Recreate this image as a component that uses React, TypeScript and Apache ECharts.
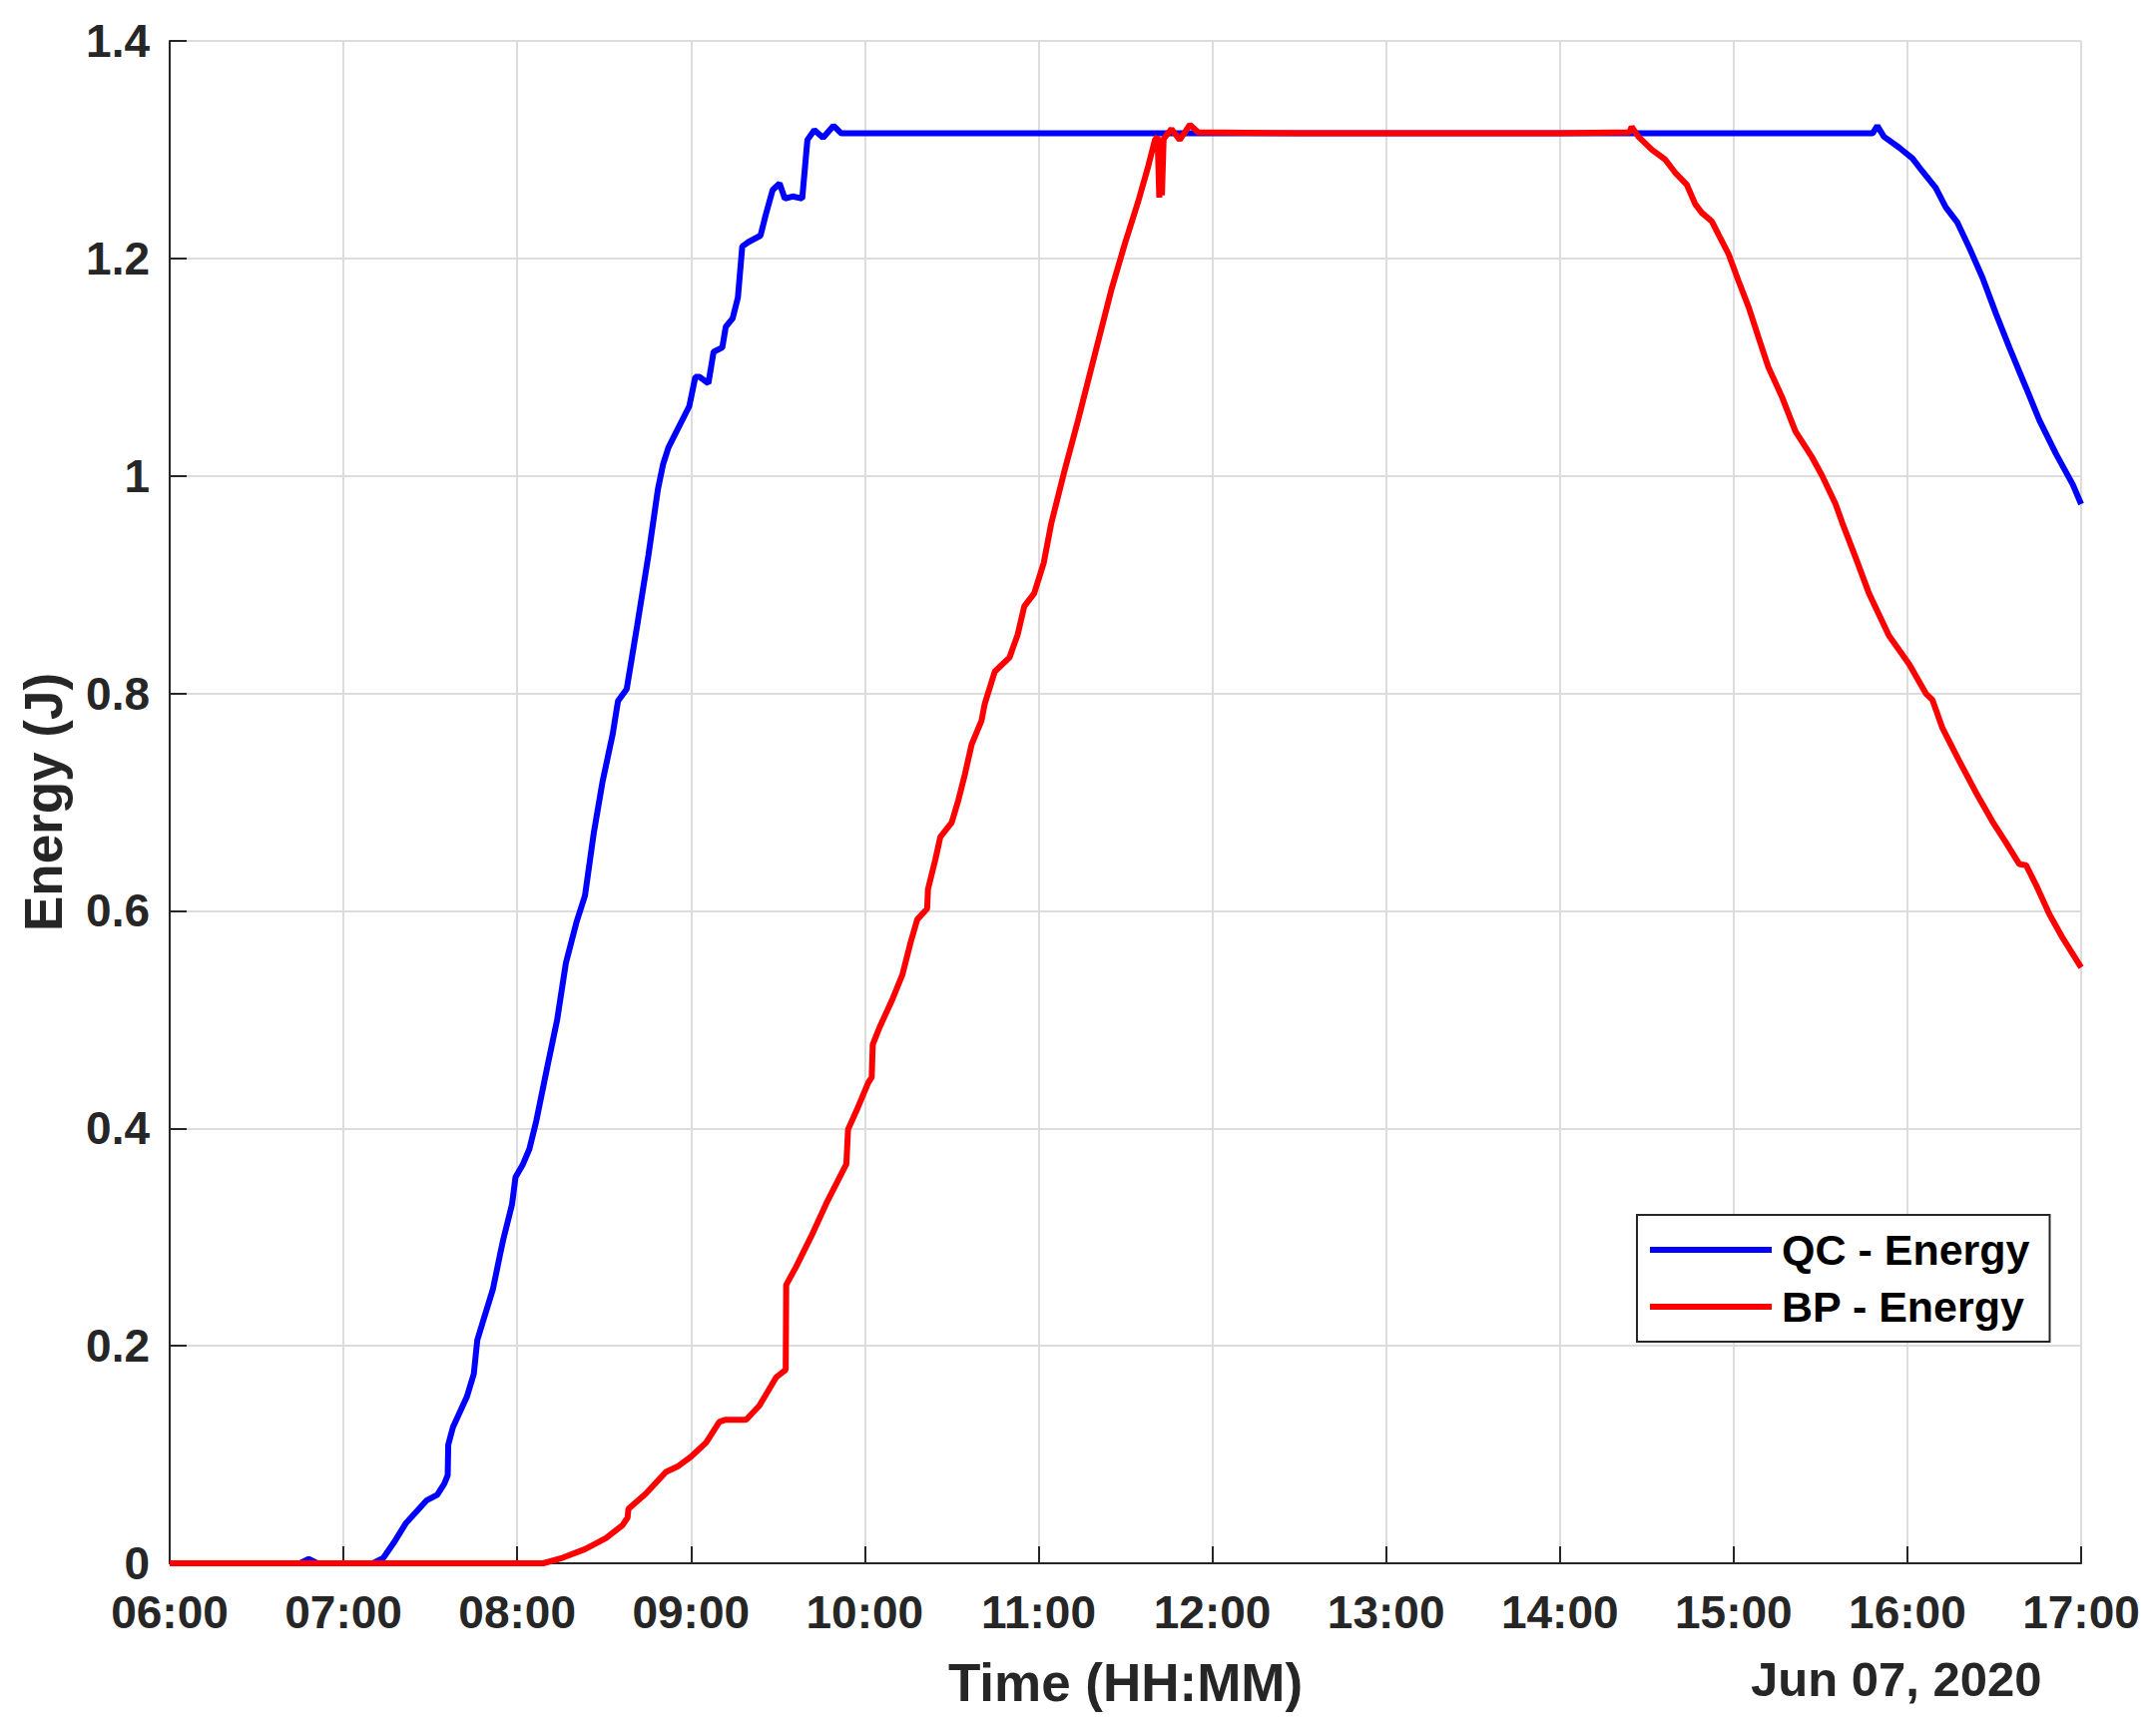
import React, { useEffect, useRef } from "react";
import * as echarts from "echarts";

// Time in decimal hours, energy in J
const qcEnergy: [number, number][] = [
  [6.0, 0], [6.75, 0], [6.8, 0.004], [6.85, 0], [7.17, 0], [7.23, 0.005], [7.29, 0.019],
  [7.36, 0.037], [7.48, 0.058], [7.54, 0.063], [7.58, 0.073], [7.6, 0.081], [7.603, 0.109],
  [7.63, 0.125], [7.71, 0.153], [7.75, 0.174], [7.77, 0.205], [7.8, 0.221], [7.86, 0.252],
  [7.9, 0.283], [7.92, 0.298], [7.97, 0.33], [7.99, 0.355], [8.03, 0.366], [8.07, 0.381],
  [8.11, 0.407], [8.17, 0.454], [8.23, 0.5], [8.28, 0.552], [8.34, 0.589], [8.39, 0.614],
  [8.44, 0.671], [8.49, 0.718], [8.55, 0.763], [8.58, 0.793], [8.63, 0.804], [8.69, 0.862],
  [8.755, 0.927], [8.81, 0.988], [8.84, 1.011], [8.87, 1.026], [8.93, 1.045], [8.99, 1.064],
  [9.025, 1.091], [9.05, 1.091], [9.1, 1.085], [9.13, 1.114], [9.18, 1.118], [9.2, 1.137],
  [9.24, 1.145], [9.27, 1.164], [9.295, 1.211], [9.33, 1.215], [9.4, 1.221], [9.43, 1.24],
  [9.47, 1.263], [9.51, 1.269], [9.54, 1.255], [9.585, 1.257], [9.64, 1.255], [9.67, 1.309],
  [9.71, 1.318], [9.76, 1.311], [9.82, 1.322], [9.865, 1.315], [10.5, 1.315], [12.0, 1.315],
  [14.0, 1.315], [15.8, 1.315], [15.827, 1.322], [15.865, 1.312], [15.952, 1.302],
  [16.029, 1.292], [16.087, 1.28], [16.163, 1.265], [16.221, 1.247], [16.288, 1.233],
  [16.356, 1.21], [16.433, 1.182], [16.51, 1.149], [16.587, 1.118], [16.683, 1.081],
  [16.76, 1.051], [16.856, 1.02], [16.952, 0.992], [17.0, 0.974],
];

const bpEnergy: [number, number][] = [
  [6.0, 0], [8.15, 0], [8.26, 0.005], [8.39, 0.013], [8.51, 0.023], [8.606, 0.035],
  [8.635, 0.042], [8.64, 0.05], [8.74, 0.064], [8.856, 0.084], [8.923, 0.089], [9.0, 0.098],
  [9.087, 0.111], [9.163, 0.13], [9.2, 0.132], [9.317, 0.132], [9.394, 0.145], [9.49, 0.171],
  [9.545, 0.178], [9.548, 0.256], [9.606, 0.273], [9.702, 0.304], [9.779, 0.331],
  [9.894, 0.367], [9.904, 0.399], [9.952, 0.416], [10.02, 0.442], [10.04, 0.447],
  [10.046, 0.477], [10.083, 0.492], [10.16, 0.519], [10.216, 0.541], [10.264, 0.571],
  [10.302, 0.592], [10.359, 0.602], [10.364, 0.62], [10.406, 0.647], [10.435, 0.668],
  [10.5, 0.681], [10.539, 0.702], [10.577, 0.726], [10.615, 0.753], [10.672, 0.775],
  [10.69, 0.79], [10.748, 0.82], [10.833, 0.833], [10.88, 0.854], [10.918, 0.88],
  [10.975, 0.892], [11.03, 0.92], [11.073, 0.956], [11.15, 1.005], [11.227, 1.051],
  [11.323, 1.111], [11.419, 1.171], [11.496, 1.213], [11.573, 1.252], [11.63, 1.284],
  [11.67, 1.309], [11.685, 1.312], [11.695, 1.256], [11.703, 1.31], [11.71, 1.258],
  [11.72, 1.31], [11.765, 1.319], [11.813, 1.309], [11.871, 1.323], [11.919, 1.316],
  [12.5, 1.315], [14.0, 1.315], [14.4, 1.316], [14.413, 1.321], [14.452, 1.312],
  [14.529, 1.3], [14.606, 1.291], [14.663, 1.279], [14.73, 1.268], [14.779, 1.25],
  [14.817, 1.242], [14.875, 1.234], [14.913, 1.222], [14.971, 1.204], [15.029, 1.179],
  [15.087, 1.155], [15.144, 1.127], [15.2, 1.1], [15.28, 1.072], [15.356, 1.041],
  [15.452, 1.017], [15.51, 1.0], [15.587, 0.974], [15.625, 0.957], [15.702, 0.925],
  [15.779, 0.892], [15.894, 0.853], [16.01, 0.827], [16.106, 0.8], [16.144, 0.794],
  [16.202, 0.768], [16.298, 0.738], [16.394, 0.709], [16.49, 0.682], [16.567, 0.663],
  [16.644, 0.643], [16.683, 0.642], [16.74, 0.624], [16.817, 0.597], [16.894, 0.575],
  [17.0, 0.548],
];

const seriesNames = ["QC - Energy", "BP - Energy"];
const seriesColors = ["#0000ff", "#ff0000"];
const xAxisTitle = "Time (HH:MM)";
const yAxisTitle = "Energy (J)";
const dateLabel = "Jun 07, 2020";

const FONT = "'Liberation Sans', Arial, Helvetica, sans-serif";
const TICK_COLOR = "#262626";

export default function App() {
  const ref = useRef<HTMLDivElement>(null);

  useEffect(() => {
    document.body.style.margin = "0";
    document.body.style.overflow = "hidden";
    if (!ref.current) return;
    const chart = echarts.init(ref.current, undefined, { renderer: "svg" });
    const axisCommon = {
      axisLine: { show: true, lineStyle: { color: TICK_COLOR, width: 2 } },
      axisTick: { show: true, inside: true, length: 17, lineStyle: { color: TICK_COLOR, width: 2 } },
      splitLine: { show: true, lineStyle: { color: "#dcdcdc", width: 2 } },
      nameTextStyle: { fontFamily: FONT, fontWeight: "bold", fontSize: 53, color: TICK_COLOR },
    };
    chart.setOption({
      animation: false,
      backgroundColor: "#ffffff",
      grid: { left: 170, right: 75, top: 41, bottom: 165, containLabel: false },
      xAxis: {
        type: "value",
        min: 6,
        max: 17,
        interval: 1,
        name: xAxisTitle,
        nameLocation: "middle",
        nameGap: 93,
        ...axisCommon,
        axisLabel: {
          margin: 26,
          fontFamily: FONT,
          fontWeight: "bold",
          fontSize: 46,
          color: TICK_COLOR,
          showMinLabel: true,
          showMaxLabel: true,
          formatter: (v: number) => (v < 10 ? "0" : "") + v + ":00",
        },
      },
      yAxis: {
        type: "value",
        min: 0,
        max: 1.4,
        interval: 0.2,
        name: yAxisTitle,
        nameLocation: "middle",
        nameGap: 100,
        ...axisCommon,
        axisLabel: {
          margin: 20,
          fontFamily: FONT,
          fontWeight: "bold",
          fontSize: 46,
          color: TICK_COLOR,
          showMinLabel: true,
          showMaxLabel: true,
        },
      },
      legend: {
        orient: "vertical",
        left: 1640,
        top: 1217,
        padding: [10, 20, 10, 13],
        itemGap: 7,
        itemWidth: 122,
        itemHeight: 6,
        icon: "rect",
        backgroundColor: "#ffffff",
        borderColor: "#262626",
        borderWidth: 2,
        borderRadius: 0,
        textStyle: {
          fontFamily: FONT,
          fontWeight: "bold",
          fontSize: 43,
          color: "#000000",
          lineHeight: 50,
          padding: [0, 0, 0, 5],
        },
        data: seriesNames,
      },
      graphic: [
        {
          type: "text",
          left: 1754,
          top: 1657,
          style: {
            text: dateLabel,
            font: `bold 49px ${FONT}`,
            fill: TICK_COLOR,
          },
        },
      ],
      series: [
        {
          name: seriesNames[0],
          type: "line",
          data: qcEnergy,
          symbol: "none",
          lineStyle: { color: seriesColors[0], width: 6 },
          itemStyle: { color: seriesColors[0] },
          clip: false,
        },
        {
          name: seriesNames[1],
          type: "line",
          data: bpEnergy,
          symbol: "none",
          lineStyle: { color: seriesColors[1], width: 6 },
          itemStyle: { color: seriesColors[1] },
          clip: false,
        },
      ],
    });
    return () => chart.dispose();
  }, []);

  return (
    <div
      ref={ref}
      style={{ position: "absolute", left: 0, top: 0, width: 2160, height: 1731, background: "#fff" }}
    />
  );
}
